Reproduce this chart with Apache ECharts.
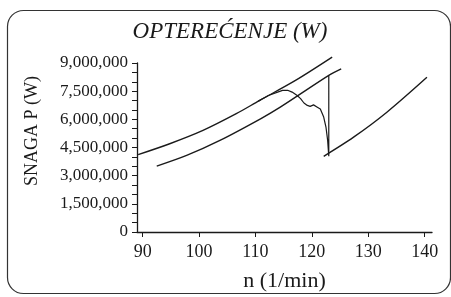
<!DOCTYPE html>
<html>
<head>
<meta charset="utf-8">
<script src="https://cdn.jsdelivr.net/npm/echarts@6/dist/echarts.min.js"></script>
<style>
  html, body { margin: 0; padding: 0; background: #fff; }
</style>
</head>
<body>
<div id="chart" style="width: 451px; height: 297px"></div>
<script>
// n (1/min) and P (W)
var upperN = [89.2, 94.8, 100.7, 106.6, 110.7, 117.1, 123.6];
var upperP = [4120000, 4700000, 5410000, 6300000, 7000000, 8070000, 9310000];

var middleN = [92.5, 97.8, 103.7, 110.9, 114.4, 123.0, 125.2];
var middleP = [3510000, 4080000, 4880000, 6030000, 6650000, 8340000, 8690000];

var rightN = [122.1, 127.4, 133.3, 140.4];
var rightP = [4030000, 5050000, 6380000, 8240000];

var loadN = [110.5, 112.3, 114.8, 115.7, 116.5, 117.4, 118.0, 118.6, 119.2, 119.7,
  120.3, 120.9, 121.5, 122.1, 122.5, 122.8, 123.0, 123.0];
var loadP = [6970000, 7270000, 7540000, 7550000, 7450000, 7270000, 7100000, 6870000, 6740000, 6690000,
  6770000, 6660000, 6550000, 6120000, 5590000, 4880000, 4030000, 8340000];

var xTicks = [90, 100, 110, 120, 130, 140];

function pairs(xs, ys) {
  return xs.map(function (x, i) { return [x, ys[i]]; });
}

var serif = "'Liberation Serif', 'DejaVu Serif', serif";
var ink = "#1a1a1a";

var myChart = echarts.init(document.getElementById("chart"));
var lineStyle = { color: ink, width: 1.4 };

var option = {
  animation: false,
  grid: { left: 137, right: 19, top: 63, bottom: 65 },
  graphic: [
    {
      type: "rect",
      shape: { x: 7.5, y: 10.5, width: 443, height: 283, r: 16 },
      style: { fill: "none", stroke: "#333", lineWidth: 1.2 },
      z: 0,
    },
    {
      type: "text",
      x: 230,
      y: 32,
      style: {
        text: "OPTEREĆENJE (W)",
        font: "italic 23px " + serif,
        fill: ink,
        textAlign: "center",
        textVerticalAlign: "middle",
      },
    },
    {
      type: "text",
      x: 32,
      y: 131,
      rotation: Math.PI / 2,
      style: {
        text: "SNAGA P (W)",
        font: "18px " + serif,
        fill: ink,
        textAlign: "center",
        textVerticalAlign: "middle",
      },
    },
  ],
  xAxis: {
    type: "value",
    min: 89,
    max: 141.3,
    name: "n (1/min)",
    nameLocation: "middle",
    nameGap: 38,
    nameTextStyle: { fontFamily: serif, fontSize: 22, color: ink },
    splitLine: { show: false },
    axisLine: { lineStyle: { color: ink, width: 1.3 } },
    axisTick: { customValues: xTicks, length: 5, lineStyle: { color: ink } },
    axisLabel: {
      customValues: xTicks,
      fontFamily: serif,
      fontSize: 18,
      color: ink,
      margin: 11,
    },
  },
  yAxis: {
    type: "value",
    min: 0,
    max: 9000000,
    interval: 1500000,
    splitLine: { show: false },
    axisLine: { show: true, lineStyle: { color: ink, width: 1.3 } },
    axisTick: { show: true, length: 5, lineStyle: { color: ink } },
    minorTick: { show: true, splitNumber: 3, length: 5, lineStyle: { color: ink } },
    axisLabel: {
      fontFamily: serif,
      fontSize: 17,
      color: ink,
      margin: 9,
      formatter: function (v) {
        return v.toLocaleString("en-US");
      },
    },
  },
  series: [
    { type: "line", data: pairs(upperN, upperP), smooth: 0.3, clip: false, symbol: "none", lineStyle: lineStyle },
    { type: "line", data: pairs(middleN, middleP), smooth: 0.3, clip: false, symbol: "none", lineStyle: lineStyle },
    { type: "line", data: pairs(rightN, rightP), smooth: 0.3, clip: false, symbol: "none", lineStyle: lineStyle },
    { type: "line", data: pairs(loadN, loadP), smooth: false, clip: false, symbol: "none", lineStyle: { color: ink, width: 1.2 } },
  ],
};

myChart.setOption(option);
window.addEventListener("resize", function () {
  myChart.resize();
});
</script>
</body>
</html>
